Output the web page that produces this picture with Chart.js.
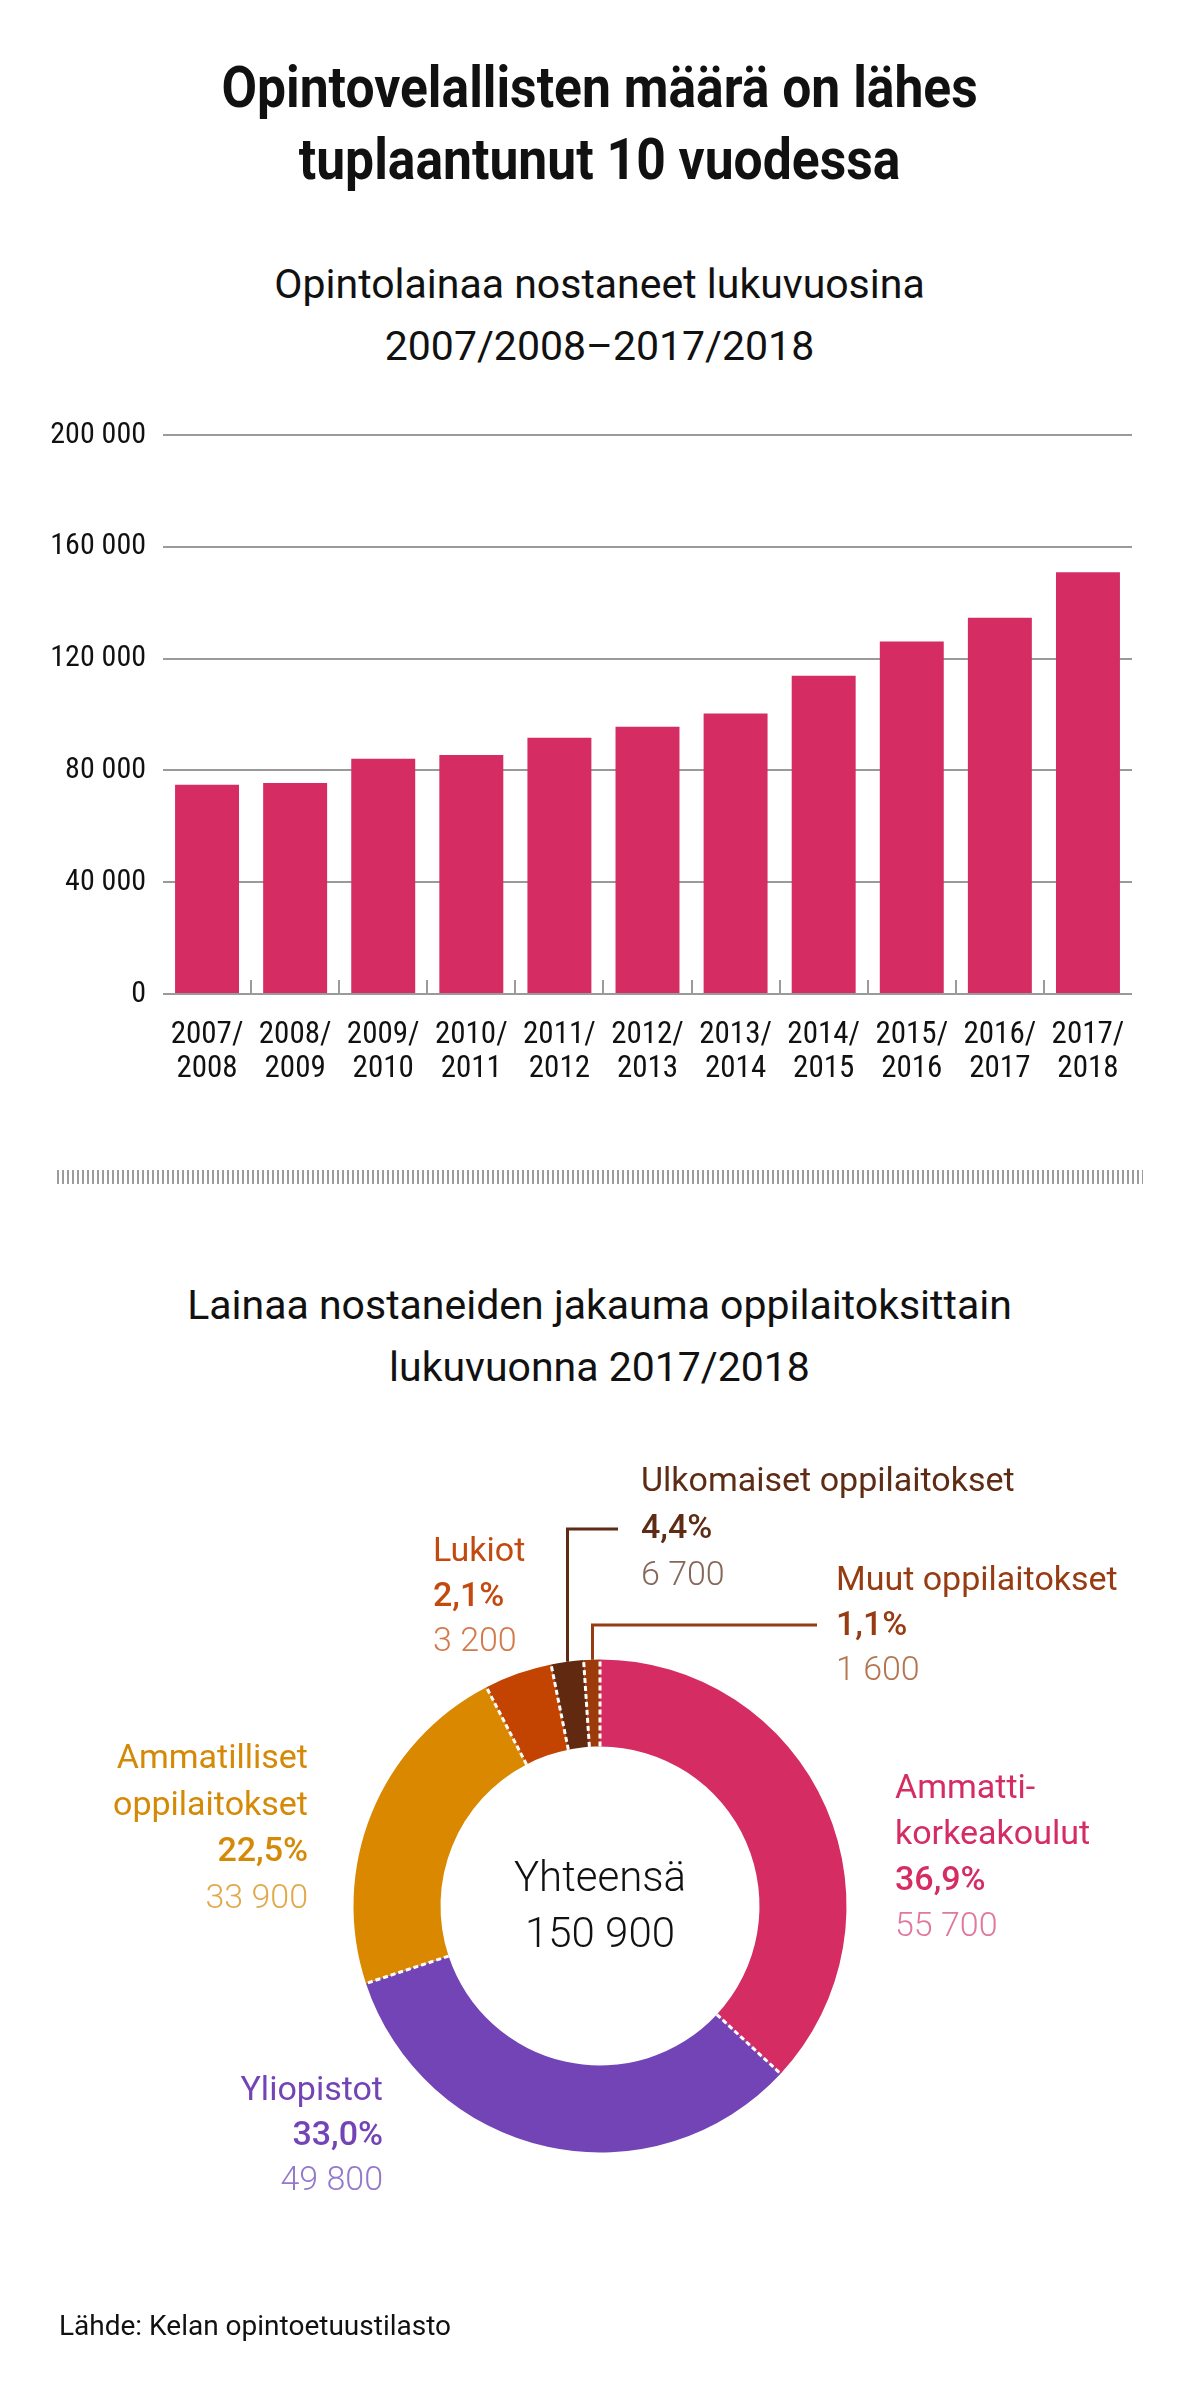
<!DOCTYPE html>
<html lang="fi">
<head>
<meta charset="utf-8">
<title>Opintovelallisten määrä</title>
<script src="https://cdn.jsdelivr.net/npm/chart.js@4.4.1/dist/chart.umd.min.js"></script>
<style>
  html, body { margin: 0; padding: 0; background: #fff; }
  body { width: 1199px; height: 2384px; position: relative; overflow: hidden; font-family: Roboto, "Noto Sans", sans-serif; color: #111; }
  .abs { position: absolute; }
  .otsikko { left: 0; top: 51px; width: 1199px; text-align: center; font-size: 58px; font-weight: 700; line-height: 72px; transform: scaleX(0.89); transform-origin: 600px 0; }
  .ali { left: 0; width: 1199px; text-align: center; font-size: 41px; line-height: 62px; }
  .erotin { left: 57px; top: 1170px; width: 1086px; height: 14px; background: repeating-linear-gradient(90deg, #9c9c9c 0 2px, transparent 2px 5px); }
  .selite { font-size: 34px; line-height: 46px; white-space: nowrap; }
  .selite b { font-weight: 500; }
  .selite .arvo { font-weight: 300; }
  .keski { left: 450px; width: 300px; top: 1849px; text-align: center; font-size: 42px; font-weight: 300; line-height: 56px; }
  .lahde { left: 59px; top: 2309px; font-size: 28px; line-height: 34px; }
</style>
</head>
<body>
<div class="abs otsikko">Opintovelallisten määrä on lähes<br>tuplaantunut 10 vuodessa</div>
<div class="abs ali" style="top:253px">Opintolainaa nostaneet lukuvuosina<br>2007/2008–2017/2018</div>
<canvas id="pylvaat" class="abs" width="1199" height="720" style="left:0;top:380px;width:1199px;height:720px"></canvas>
<div class="abs erotin"></div>
<div class="abs ali" style="top:1274px">Lainaa nostaneiden jakauma oppilaitoksittain<br>lukuvuonna 2017/2018</div>
<canvas id="donitsi" class="abs" width="1199" height="1000" style="left:0;top:1400px;width:1199px;height:1000px"></canvas>
<div class="abs keski">Yhteensä<br>150 900</div>
<div id="selitteet"></div>
<div class="abs lahde">Lähde: Kelan opintoetuustilasto</div>

<script>
const lukuvuodet = [
  ['2007/', '2008'], ['2008/', '2009'], ['2009/', '2010'], ['2010/', '2011'],
  ['2011/', '2012'], ['2012/', '2013'], ['2013/', '2014'], ['2014/', '2015'],
  ['2015/', '2016'], ['2016/', '2017'], ['2017/', '2018']
];
const nostaneet = [74900, 75500, 84200, 85500, 91700, 95600, 100400, 113900, 126100, 134600, 150900];
const yTikit = [0, 40000, 80000, 120000, 160000, 200000];

// kaarien järjestys myötäpäivään ylhäältä
const oppilaitokset = ['Ammatti-<br>korkeakoulut', 'Yliopistot', 'Ammatilliset<br>oppilaitokset', 'Ulkomaiset oppilaitokset', 'Lukiot', 'Muut oppilaitokset'];
const lainaajat = [55700, 49800, 33900, 6700, 3200, 1600];
const kaariVarit = ['#d42c63', '#7344b6', '#d98800', '#c24400', '#612a10', '#9c3a0c'];

const fonttiKapea = "'Liberation Sans Narrow', 'Roboto Condensed', Roboto, sans-serif";

function tuhannet(v) {
  return String(v).replace(/\B(?=(\d{3})+(?!\d))/g, ' ');
}

const jakoviivat = {
  id: 'jakoviivat',
  afterDatasetsDraw(chart) {
    const c = chart.ctx;
    const xs = chart.scales.x;
    const ala = chart.chartArea.bottom;
    c.save();
    c.strokeStyle = '#9a9a9a';
    c.lineWidth = 2;
    for (let i = 1; i < lukuvuodet.length; i++) {
      const px = Math.round((xs.getPixelForTick(i - 1) + xs.getPixelForTick(i)) / 2);
      c.beginPath();
      c.moveTo(px, ala);
      c.lineTo(px, ala - 14);
      c.stroke();
    }
    c.restore();
  }
};

new Chart(document.getElementById('pylvaat'), {
  type: 'bar',
  data: {
    labels: lukuvuodet,
    datasets: [{
      data: nostaneet,
      backgroundColor: '#d42c63',
      barPercentage: 0.726,
      categoryPercentage: 1.0
    }]
  },
  options: {
    responsive: false,
    animation: false,
    layout: { padding: { top: 55, right: 67, bottom: 0, left: 0 } },
    plugins: { legend: { display: false }, tooltip: { enabled: false } },
    scales: {
      x: {
        grid: { display: false },
        border: { display: false },
        ticks: {
          color: '#111',
          font: { family: fonttiKapea, size: 31, lineHeight: 1.07 },
          padding: 17,
          maxRotation: 0,
          autoSkip: false
        },
        afterFit: s => { s.height = 106; }
      },
      y: {
        min: 0,
        max: 200000,
        afterBuildTicks: s => { s.ticks = yTikit.map(v => ({ value: v })); },
        grid: { color: '#9a9a9a', lineWidth: 2, drawTicks: false },
        border: { display: false },
        ticks: {
          color: '#111',
          font: { family: fonttiKapea, size: 30 },
          padding: 17,
          callback: v => tuhannet(v)
        },
        afterFit: s => { s.width = 163; }
      }
    }
  },
  plugins: [jakoviivat]
});

// selitteiden paikat ja värit
const selitteet = [
  { i: 0, left: 895, top: 1763, lh: 46, vari: '#d42c63', vaalea: '#e0779e' },
  { i: 1, right: 383, top: 2066, lh: 45, vari: '#7344b6', vaalea: '#9478cc' },
  { i: 2, right: 308, top: 1733, lh: 46.5, vari: '#d48a06', vaalea: '#e2a94a' },
  { i: 3, left: 641, top: 1456, lh: 47, vari: '#5e2c14', vaalea: '#86675a' },
  { i: 4, left: 433, top: 1527, lh: 45, vari: '#c24a0e', vaalea: '#d37a4a' },
  { i: 5, left: 836, top: 1556, lh: 45, vari: '#973c12', vaalea: '#b5764f' }
];
const johdot = [
  { kaari: 4, y: 129, x: 618, vari: '#5e2c14' },
  { kaari: 5, y: 225, x: 817, vari: '#973c12' }
];

const yhteensa = lainaajat.reduce((a, b) => a + b, 0);
const kohde = document.getElementById('selitteet');
selitteet.forEach(s => {
  const d = document.createElement('div');
  d.className = 'abs selite';
  d.style.top = s.top + 'px';
  d.style.lineHeight = s.lh + 'px';
  d.style.color = s.vari;
  if (s.right !== undefined) {
    d.style.left = '0px';
    d.style.width = s.right + 'px';
    d.style.textAlign = 'right';
  } else {
    d.style.left = s.left + 'px';
  }
  const pros = (lainaajat[s.i] / yhteensa * 100).toFixed(1).replace('.', ',');
  d.innerHTML = oppilaitokset[s.i] + '<br><b>' + pros + '%</b><br><span class="arvo" style="color:' + s.vaalea + '">' + tuhannet(lainaajat[s.i]) + '</span>';
  kohde.appendChild(d);
});

const donitsiViivat = {
  id: 'donitsiViivat',
  afterDatasetsDraw(chart) {
    const c = chart.ctx;
    const kaaret = chart.getDatasetMeta(0).data;
    c.save();
    c.strokeStyle = '#fff';
    c.lineWidth = 3;
    c.setLineDash([5, 3]);
    kaaret.forEach(a => {
      const p = a.getProps(['x', 'y', 'startAngle', 'innerRadius', 'outerRadius'], true);
      c.beginPath();
      c.moveTo(p.x + Math.cos(p.startAngle) * p.innerRadius, p.y + Math.sin(p.startAngle) * p.innerRadius);
      c.lineTo(p.x + Math.cos(p.startAngle) * (p.outerRadius + 1), p.y + Math.sin(p.startAngle) * (p.outerRadius + 1));
      c.stroke();
    });
    c.setLineDash([]);
    johdot.forEach(j => {
      const p = kaaret[j.kaari].getProps(['x', 'y', 'startAngle', 'endAngle', 'outerRadius'], true);
      const kulma = (p.startAngle + p.endAngle) / 2;
      const px = Math.round(p.x + Math.cos(kulma) * p.outerRadius) + 0.5;
      const py = p.y + Math.sin(kulma) * p.outerRadius;
      c.strokeStyle = j.vari;
      c.lineWidth = 3;
      c.beginPath();
      c.moveTo(px, py);
      c.lineTo(px, j.y);
      c.lineTo(j.x, j.y);
      c.stroke();
    });
    c.restore();
  }
};

new Chart(document.getElementById('donitsi'), {
  type: 'doughnut',
  data: {
    labels: oppilaitokset.map(n => n.replace('<br>', '')),
    datasets: [{
      data: lainaajat,
      backgroundColor: kaariVarit,
      borderWidth: 0
    }]
  },
  options: {
    responsive: false,
    animation: false,
    radius: 246.5,
    cutout: '64.7%',
    layout: { padding: { top: 12, left: 1, right: 0, bottom: 0 } },
    plugins: { legend: { display: false }, tooltip: { enabled: false } }
  },
  plugins: [donitsiViivat]
});
</script>
</body>
</html>
